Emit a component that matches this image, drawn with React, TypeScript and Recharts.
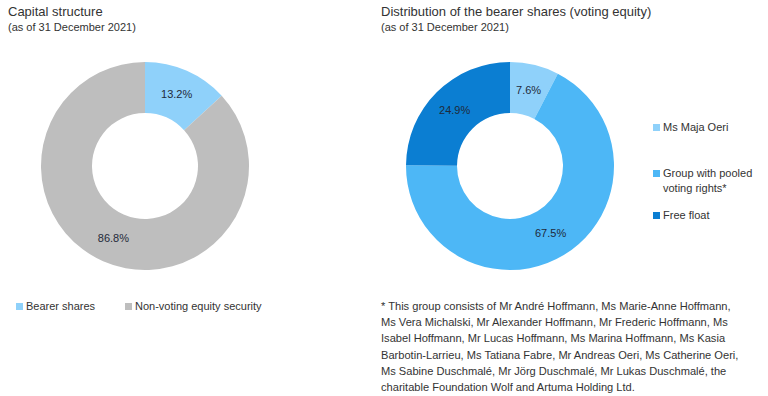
import { PieChart, Pie, Cell } from "recharts";

const capitalNames = ["Bearer shares", "Non-voting equity security"];
const capitalValues = [13.2, 86.8];
const capitalColors = ["#8FD1FA", "#BEBEBE"];

const bearerNames = ["Ms Maja Oeri", "Group with pooled voting rights*", "Free float"];
const bearerValues = [7.6, 67.5, 24.9];
const bearerColors = ["#8FD1FA", "#4DB7F6", "#0B7ED2"];

const footnoteLines = [
  "* This group consists of Mr André Hoffmann, Ms Marie-Anne Hoffmann,",
  "Ms Vera Michalski, Mr Alexander Hoffmann, Mr Frederic Hoffmann, Ms",
  "Isabel Hoffmann, Mr Lucas Hoffmann, Ms Marina Hoffmann, Ms Kasia",
  "Barbotin-Larrieu, Ms Tatiana Fabre, Mr Andreas Oeri, Ms Catherine Oeri,",
  "Ms Sabine Duschmalé, Mr Jörg Duschmalé, Mr Lukas Duschmalé, the",
  "charitable Foundation Wolf and Artuma Holding Ltd.",
];

const font = '"Liberation Sans", Arial, sans-serif';
const RAD = Math.PI / 180;

const capitalData = capitalNames.map((name, i) => ({ name, value: capitalValues[i] }));
const bearerData = bearerNames.map((name, i) => ({ name, value: bearerValues[i] }));

function renderLabel(props: any) {
  const { cx, cy, midAngle, innerRadius, outerRadius, value } = props;
  const r = (innerRadius + outerRadius) / 2;
  const x = cx + r * Math.cos(-midAngle * RAD);
  const y = cy + r * Math.sin(-midAngle * RAD);
  return (
    <text x={x} y={y} textAnchor="middle" dominantBaseline="central" fill="#1f2a3a" fontSize={11} fontFamily={font}>
      {value.toFixed(1)}%
    </text>
  );
}

const Swatch = ({ color }: { color: string }) => (
  <span style={{ display: "inline-block", width: 7, height: 7, background: color, marginRight: 3, verticalAlign: "0px" }} />
);

export default function App() {
  return (
    <div style={{ position: "absolute", left: 0, top: 0, width: 768, height: 396, background: "#fff", fontFamily: font, color: "#333" }}>
      <PieChart width={768} height={396} margin={{ top: 0, right: 0, bottom: 0, left: 0 }} style={{ position: "absolute", left: 0, top: 0 }}>
        <Pie
          data={capitalData}
          dataKey="value"
          cx={145}
          cy={166}
          innerRadius={53}
          outerRadius={104}
          startAngle={90}
          endAngle={-270}
          stroke="none"
          label={renderLabel}
          labelLine={false}
          isAnimationActive={false}
        >
          {capitalData.map((d, i) => <Cell key={d.name} fill={capitalColors[i]} />)}
        </Pie>
        <Pie
          data={bearerData}
          dataKey="value"
          cx={510}
          cy={166}
          innerRadius={53}
          outerRadius={104}
          startAngle={90}
          endAngle={-270}
          stroke="none"
          label={renderLabel}
          labelLine={false}
          isAnimationActive={false}
        >
          {bearerData.map((d, i) => <Cell key={d.name} fill={bearerColors[i]} />)}
        </Pie>
      </PieChart>

      <div style={{ position: "absolute", left: 8, top: 4, fontSize: 13 }}>Capital structure</div>
      <div style={{ position: "absolute", left: 8, top: 21, fontSize: 11 }}>(as of 31 December 2021)</div>
      <div style={{ position: "absolute", left: 381, top: 4, fontSize: 13 }}>Distribution of the bearer shares (voting equity)</div>
      <div style={{ position: "absolute", left: 381, top: 21, fontSize: 11 }}>(as of 31 December 2021)</div>

      <div style={{ position: "absolute", left: 16, top: 300, fontSize: 11 }}>
        <Swatch color={capitalColors[0]} />{capitalNames[0]}
      </div>
      <div style={{ position: "absolute", left: 125, top: 300, fontSize: 11 }}>
        <Swatch color={capitalColors[1]} />{capitalNames[1]}
      </div>

      <div style={{ position: "absolute", left: 653, top: 121, fontSize: 11 }}>
        <Swatch color={bearerColors[0]} />{bearerNames[0]}
      </div>
      <div style={{ position: "absolute", left: 653, top: 166, fontSize: 11, lineHeight: "15px", width: 115 }}>
        <Swatch color={bearerColors[1]} />Group with pooled
        <br />
        <span style={{ marginLeft: 10 }}>voting rights*</span>
      </div>
      <div style={{ position: "absolute", left: 653, top: 209, fontSize: 11 }}>
        <Swatch color={bearerColors[2]} />{bearerNames[2]}
      </div>

      <div style={{ position: "absolute", left: 381, top: 298, fontSize: 11.1, lineHeight: "16.2px" }}>
        {footnoteLines.map((l) => (
          <div key={l} style={{ whiteSpace: "nowrap" }}>{l}</div>
        ))}
      </div>
    </div>
  );
}
